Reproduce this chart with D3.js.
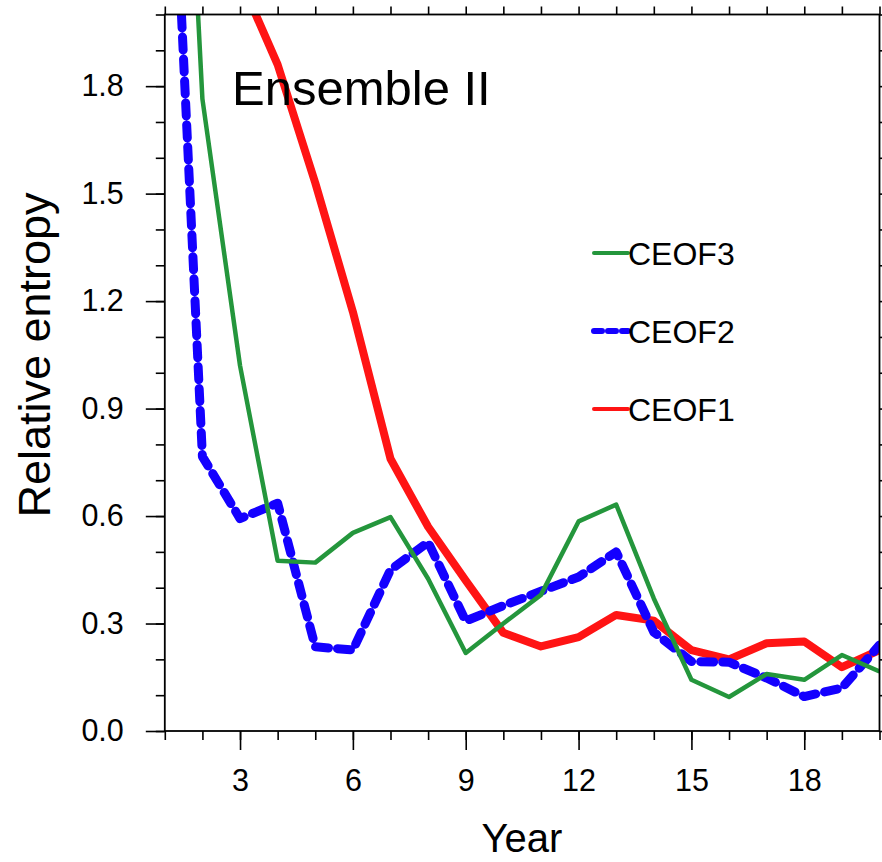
<!DOCTYPE html>
<html>
<head>
<meta charset="utf-8">
<script src="https://cdn.jsdelivr.net/npm/d3@7"></script>
<style>
  html, body { margin: 0; padding: 0; background: #fff; }
  svg { display: block; font-family: "Liberation Sans", Arial, Helvetica, sans-serif; }
</style>
</head>
<body>
<svg id="chart" width="882" height="862"></svg>
<script>
// Lead year 1..20
const years = d3.range(1, 21);

// Relative entropy per leading CEOF mode
const ceof1 = [3.2, 2.5, 2.1, 1.86, 1.53, 1.17, 0.76, 0.57, 0.42, 0.274, 0.236, 0.262, 0.324, 0.308, 0.226, 0.2, 0.245, 0.25, 0.178, 0.226];
const ceof2 = [2.98, 0.766, 0.593, 0.636, 0.235, 0.226, 0.45, 0.527, 0.307, 0.35, 0.39, 0.43, 0.5, 0.276, 0.194, 0.192, 0.148, 0.096, 0.12, 0.24];
const ceof3 = [3.8, 1.764, 1.02, 0.475, 0.47, 0.553, 0.597, 0.425, 0.218, 0.3, 0.38, 0.585, 0.632, 0.37, 0.143, 0.095, 0.159, 0.143, 0.212, 0.166];

const seriesNames = ["CEOF1", "CEOF2", "CEOF3"];
const seriesColors = ["#ff1414", "#1400ff", "#24963c"];
const seriesWidths = [8, 9, 4.5];
const seriesDash = [null, "13,9", null];
const seriesValues = [ceof1, ceof2, ceof3];

const yTicks = [0.0, 0.3, 0.6, 0.9, 1.2, 1.5, 1.8];
const xTicks = [3, 6, 9, 12, 15, 18];

const svg = d3.select("#chart");
const plotLeft = 164.8, plotRight = 879.5, plotTop = 14.5, plotBottom = 731;

const x = d3.scaleLinear().domain([1, 20]).range([plotLeft, plotRight]);
const y = d3.scaleLinear().domain([0, 2.0]).range([plotBottom, plotTop]);

svg.append("defs").append("clipPath").attr("id", "plotclip")
  .append("rect").attr("x", plotLeft).attr("y", plotTop)
  .attr("width", plotRight - plotLeft).attr("height", plotBottom - plotTop);

// curves
const line = d3.line().x((d, i) => x(years[i])).y(d => y(d));
const curves = svg.append("g").attr("clip-path", "url(#plotclip)");
seriesValues.forEach((vals, k) => {
  curves.append("path")
    .datum(vals)
    .attr("d", line)
    .attr("fill", "none")
    .attr("stroke", seriesColors[k])
    .attr("stroke-width", seriesWidths[k])
    .attr("stroke-linejoin", "round")
    .attr("stroke-linecap", seriesDash[k] ? "round" : "butt")
    .attr("stroke-dasharray", seriesDash[k]);
});

// axes: major + minor ticks drawn with d3 axis generators
const tickFont = 30.5;
const minorY = d3.range(0, 2.0001, 0.1).map(v => +v.toFixed(2));
const minorX = years;

function styleAxis(g) {
  g.select(".domain").remove();
  g.selectAll("line").attr("stroke", "#000").attr("stroke-width", 1.6);
}

// left
svg.append("g").attr("transform", `translate(${plotLeft},0)`)
  .call(d3.axisLeft(y).tickValues(minorY).tickSize(9).tickFormat(""))
  .call(styleAxis);
const yMajor = svg.append("g").attr("transform", `translate(${plotLeft},0)`)
  .call(d3.axisLeft(y).tickValues(yTicks).tickSize(19).tickPadding(22).tickFormat(d3.format(".1f")))
  .call(styleAxis);
yMajor.selectAll("text").attr("font-size", tickFont).attr("fill", "#000")
  .attr("font-family", "Liberation Sans, Arial, sans-serif");

// bottom
svg.append("g").attr("transform", `translate(0,${plotBottom})`)
  .call(d3.axisBottom(x).tickValues(minorX).tickSize(9).tickFormat(""))
  .call(styleAxis);
const xMajor = svg.append("g").attr("transform", `translate(0,${plotBottom})`)
  .call(d3.axisBottom(x).tickValues(xTicks).tickSize(19).tickPadding(19).tickFormat(d3.format("d")))
  .call(styleAxis);
xMajor.selectAll("text").attr("font-size", tickFont).attr("fill", "#000")
  .attr("font-family", "Liberation Sans, Arial, sans-serif");

// top and right mirrored ticks
svg.append("g").attr("transform", `translate(0,${plotTop})`)
  .call(d3.axisTop(x).tickValues(minorX).tickSize(8).tickFormat(""))
  .call(styleAxis);
svg.append("g").attr("transform", `translate(${plotRight},0)`)
  .call(d3.axisRight(y).tickValues(minorY).tickSize(8).tickFormat(""))
  .call(styleAxis);

// frame
svg.append("rect").attr("x", plotLeft).attr("y", plotTop)
  .attr("width", plotRight - plotLeft).attr("height", plotBottom - plotTop)
  .attr("fill", "none").attr("stroke", "#000").attr("stroke-width", 1.8);

// axis titles
svg.append("text")
  .attr("transform", `translate(50,355) rotate(-90)`)
  .attr("text-anchor", "middle")
  .attr("font-size", 45)
  .text("Relative entropy");
svg.append("text")
  .attr("x", 522).attr("y", 852)
  .attr("text-anchor", "middle")
  .attr("font-size", 40)
  .text("Year");

// panel title
svg.append("text")
  .attr("x", 232).attr("y", 105)
  .attr("font-size", 49)
  .text("Ensemble II");

// legend (CEOF3 on top)
const legendY = [409, 331, 253];
const legend = svg.append("g");
seriesNames.forEach((name, k) => {
  legend.append("line")
    .attr("x1", 594).attr("x2", 628)
    .attr("y1", legendY[k]).attr("y2", legendY[k])
    .attr("stroke", seriesColors[k])
    .attr("stroke-width", k === 1 ? 6 : 4)
    .attr("stroke-linecap", "round")
    .attr("stroke-dasharray", k === 1 ? "8,6" : null);
  legend.append("text")
    .attr("x", 628).attr("y", legendY[k] + 11.5)
    .attr("font-size", 32)
    .text(name);
});
</script>
</body>
</html>
